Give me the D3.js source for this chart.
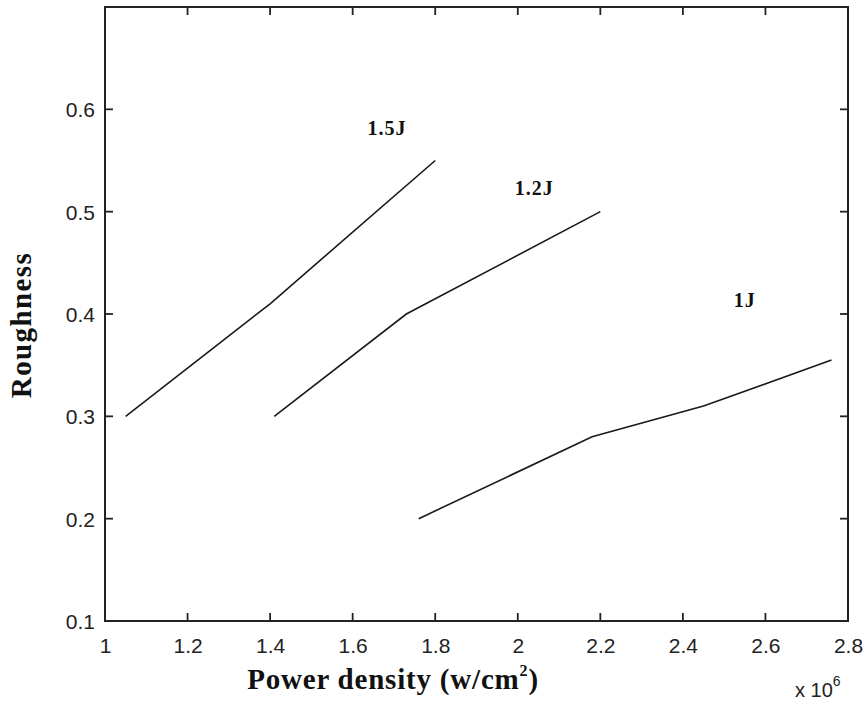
<!DOCTYPE html>
<html>
<head>
<meta charset="utf-8">
<script src="https://cdn.jsdelivr.net/npm/d3@7"></script>
<style>
  body { margin: 0; background: #fff; }
  .tick text { font-family: "Liberation Sans", Arial, sans-serif; font-size: 21px; fill: #222; }
</style>
</head>
<body>
<div id="chart"></div>
<script>
// values (x in units of 10^6 w/cm2)
var xTicks = [1, 1.2, 1.4, 1.6, 1.8, 2, 2.2, 2.4, 2.6, 2.8];
var yTicks = [0.1, 0.2, 0.3, 0.4, 0.5, 0.6, 0.7];
var seriesNames = ["1.5J", "1.2J", "1J"];
var x15 = [1.05, 1.4, 1.8];
var y15 = [0.30, 0.41, 0.55];
var x12 = [1.41, 1.73, 2.2];
var y12 = [0.30, 0.40, 0.50];
var x10 = [1.76, 2.18, 2.45, 2.76];
var y10 = [0.20, 0.28, 0.31, 0.355];
// label anchor positions, in data units
var labelX = [1.683, 2.04, 2.55];
var labelY = [0.575, 0.516, 0.407];

var width = 868, height = 706;
var margin = {top: 7, right: 20, bottom: 85, left: 105};
var tickLen = 8;

var svg = d3.select("#chart").append("svg")
    .attr("width", width)
    .attr("height", height);

var x = d3.scaleLinear().domain([1, 2.8]).range([margin.left, width - margin.right]);
var y = d3.scaleLinear().domain([0.1, 0.7]).range([height - margin.bottom, margin.top]);

var fmt = d => d3.format("")(+d.toFixed(1));

// tick labels from d3 axes (tick lines drawn separately below)
var xAxisG = svg.append("g")
    .attr("transform", `translate(0,${y(0.1)})`)
    .call(d3.axisBottom(x).tickValues(xTicks).tickFormat(fmt).tickSize(0).tickPadding(23))
    .call(g => g.select(".domain").remove());
var yAxisG = svg.append("g")
    .attr("transform", `translate(${x(1)},0)`)
    .call(d3.axisLeft(y).tickValues(yTicks.slice(0, 6)).tickFormat(fmt).tickSize(0).tickPadding(10))
    .call(g => g.select(".domain").remove());
yAxisG.selectAll(".tick text").attr("dy", "0.36em");
xAxisG.selectAll(".tick text").attr("dy", "0.45em");

// inward ticks on all four sides
var tg = svg.append("g").attr("stroke", "#222").attr("stroke-width", 1.8);
tg.selectAll(".xb").data(xTicks).join("line")
    .attr("x1", d => x(d)).attr("x2", d => x(d))
    .attr("y1", y(0.1)).attr("y2", y(0.1) - tickLen);
tg.selectAll(".xt").data(xTicks).join("line")
    .attr("x1", d => x(d)).attr("x2", d => x(d))
    .attr("y1", y(0.7)).attr("y2", y(0.7) + tickLen);
tg.selectAll(".yl").data(yTicks).join("line")
    .attr("y1", d => y(d)).attr("y2", d => y(d))
    .attr("x1", x(1)).attr("x2", x(1) + tickLen);
tg.selectAll(".yr").data(yTicks).join("line")
    .attr("y1", d => y(d)).attr("y2", d => y(d))
    .attr("x1", x(2.8)).attr("x2", x(2.8) - tickLen);

// box
svg.append("rect")
    .attr("x", x(1)).attr("y", y(0.7))
    .attr("width", x(2.8) - x(1)).attr("height", y(0.1) - y(0.7))
    .attr("fill", "none").attr("stroke", "#222").attr("stroke-width", 2);

var line = d3.line().x(d => x(d[0])).y(d => y(d[1]));
var series = [d3.zip(x15, y15), d3.zip(x12, y12), d3.zip(x10, y10)];

svg.selectAll(".curve")
    .data(series)
    .join("path")
    .attr("class", "curve")
    .attr("d", line)
    .attr("fill", "none")
    .attr("stroke", "#1a1a1a")
    .attr("stroke-width", 1.6);

svg.selectAll(".lbl")
    .data(seriesNames)
    .join("text")
    .attr("class", "lbl")
    .attr("x", (d, i) => x(labelX[i]))
    .attr("y", (d, i) => y(labelY[i]))
    .attr("text-anchor", "middle")
    .attr("font-family", "Liberation Serif, Times New Roman, serif")
    .attr("font-weight", "bold")
    .attr("font-size", 20)
    .attr("letter-spacing", 1)
    .attr("fill", "#111")
    .text(d => d);

// axis titles
var xt = svg.append("text")
    .attr("x", 393).attr("y", 689)
    .attr("text-anchor", "middle")
    .attr("font-family", "Liberation Serif, Times New Roman, serif")
    .attr("font-weight", "bold")
    .attr("font-size", 29)
    .attr("letter-spacing", 0.8)
    .attr("fill", "#111");
xt.append("tspan").text("Power density (w/cm");
xt.append("tspan").attr("font-size", 16).attr("dy", -13).text("2");
xt.append("tspan").attr("dy", 13).text(")");

svg.append("text")
    .attr("transform", "translate(31,325) rotate(-90)")
    .attr("text-anchor", "middle")
    .attr("font-family", "Liberation Serif, Times New Roman, serif")
    .attr("font-weight", "bold")
    .attr("font-size", 29)
    .attr("letter-spacing", 1.4)
    .attr("fill", "#111")
    .text("Roughness");

var ex = svg.append("text")
    .attr("x", 795).attr("y", 697)
    .attr("font-family", "Liberation Sans, Arial, sans-serif")
    .attr("font-size", 20)
    .attr("fill", "#222");
ex.append("tspan").text("x 10");
ex.append("tspan").attr("font-size", 14).attr("dy", -11).text("6");
</script>
</body>
</html>
